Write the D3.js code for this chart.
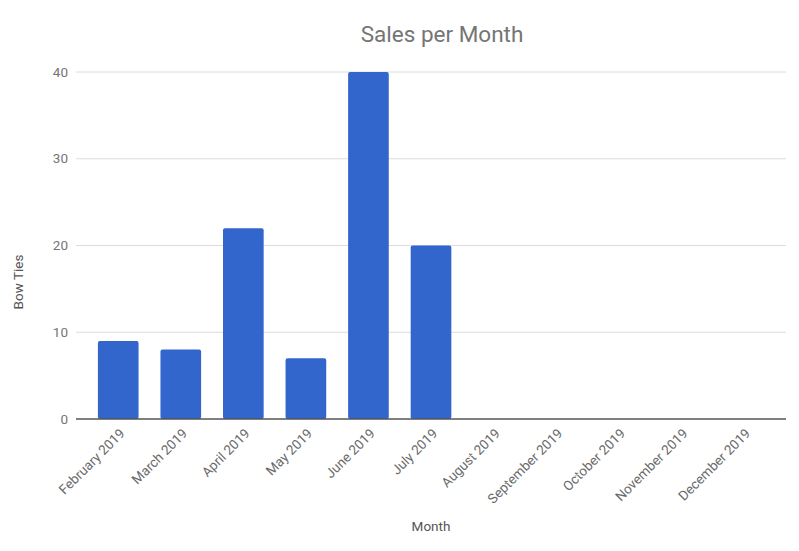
<!DOCTYPE html>
<html><head><meta charset="utf-8">
<script src="https://cdn.jsdelivr.net/npm/d3@7"></script>
<style>body{margin:0;background:#fff}text{font-family:Roboto,Arial,sans-serif}</style>
</head><body><svg id="c" width="799" height="551"></svg>
<script>
const months = ["February 2019","March 2019","April 2019","May 2019","June 2019","July 2019","August 2019","September 2019","October 2019","November 2019","December 2019"];
const sales = [9,8,22,7,40,20,0,0,0,0,0];
const yTicks = [0,10,20,30,40];

const svg = d3.select("#c");
const pLeft = 76, pRight = 786, pTop = 72, pBottom = 419;
const x = d3.scaleBand().domain(months).range([pLeft,pRight]).paddingInner(0.35).paddingOuter(0.35);
const y = d3.scaleLinear().domain([0,40]).range([pBottom,pTop]);

// gridlines
svg.append("g").selectAll("line").data(yTicks.filter(d=>d>0)).join("line")
  .attr("x1",pLeft).attr("x2",pRight).attr("y1",d=>y(d)).attr("y2",d=>y(d))
  .attr("stroke","#dcdcdc").attr("stroke-width",1);

// y labels
svg.append("g").selectAll("text").data(yTicks).join("text")
  .attr("x",68).attr("y",d=>y(d)).attr("dy","0.35em").attr("text-anchor","end")
  .attr("font-size",13.5).attr("fill","#757575").text(d=>d);

// bars
svg.append("g").selectAll("rect").data(months.map((m,i)=>({m,v:sales[i]}))).join("rect")
  .attr("x",d=>x(d.m)).attr("width",x.bandwidth())
  .attr("y",d=>y(d.v)).attr("height",d=>pBottom-y(d.v))
  .attr("rx",2).attr("fill","#3366cc");

// baseline
svg.append("line").attr("x1",pLeft).attr("x2",pRight).attr("y1",pBottom).attr("y2",pBottom)
  .attr("stroke","#555").attr("stroke-width",1.3);

// x labels
svg.append("g").selectAll("text").data(months).join("text")
  .attr("transform",d=>`translate(${x(d)+x.bandwidth()/2+4},${pBottom+12}) rotate(-45)`)
  .attr("text-anchor","end").attr("dy","0.35em")
  .attr("font-size",13.5).attr("fill","#6a6a6a").text(d=>d);

// titles
svg.append("text").attr("x",442).attr("y",42).attr("text-anchor","middle")
  .attr("font-size",22.5).attr("fill","#757575").text("Sales per Month");
svg.append("text").attr("x",431).attr("y",531).attr("text-anchor","middle")
  .attr("font-size",13.5).attr("fill","#555").text("Month");
svg.append("text").attr("transform","translate(23,282) rotate(-90)").attr("text-anchor","middle")
  .attr("font-size",13.5).attr("fill","#555").text("Bow Ties");
</script></body></html>
